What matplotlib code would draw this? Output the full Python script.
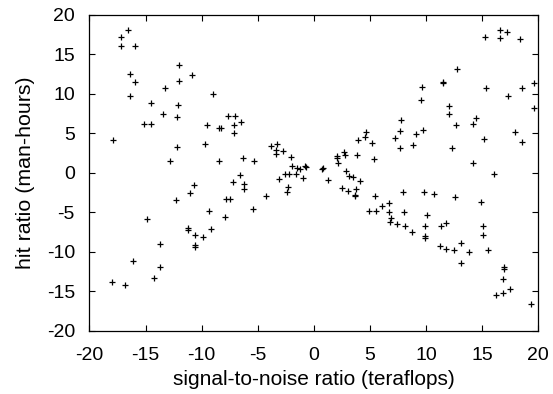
import matplotlib
matplotlib.use("Agg")
import matplotlib.pyplot as plt

# data points (x, y)
x_vals = [
    -16.53, -17.16, -17.16, -15.91, -12.04, -16.41, -10.85, -15.94, -12.01, -13.29,
    -16.38, -8.97, -14.48, -12.13, -13.47, -7.61, -7.04, -12.16, -6.45, -15.10,
    -14.48, -9.48, -7.10, -8.41, -8.23, -7.13, -17.87, -9.66, -12.19, -3.82,
    -3.29, -3.35, -3.35, -2.70, -2.01, -12.84, -8.44, -6.27, -5.29, -1.90,
    -1.48, -1.27, -0.80, -0.71,
    -6.62, -2.54, -2.19, -1.56, -0.97, -3.11, -7.22, -6.23, -6.23, -10.67,
    -11.00, -2.28, -2.37, -4.30, -12.28, -7.87, -7.46, -5.43, -9.33, -14.84,
    -7.90, -11.21, -11.21, -9.18, -10.58, -9.84, -13.73, -10.55, -10.55, -16.09,
    -13.70, -14.27, -18.00, -16.80,
    16.59, 17.19, 15.31, 16.59, 18.38, 12.75, 11.50, 11.55, 9.66, 15.40,
    18.55, 19.63, 17.31, 9.60, 12.10, 12.10, 19.63, 7.81, 14.51, 14.18,
    12.69, 4.63, 7.66, 4.54, 3.95, 7.21, 9.09, 9.77, 17.96, 18.58,
    15.16, 5.16, 7.66, 8.88, 12.30, 2.07, 2.07, 2.66, 2.78, 2.16,
    3.88, 5.36, 14.21, 0.73, 0.85, 2.86, 16.05,
    1.23, 3.12, 3.49, 4.15, 2.48, 3.09, 3.75, 3.65, 3.65, 5.48,
    7.96, 9.80, 10.73, 12.57, 14.87, 4.93, 5.52, 6.12, 6.74, 6.74,
    8.02, 6.86, 6.77, 7.43, 8.14, 8.73, 10.07, 9.89, 9.92, 9.95,
    11.32, 11.77, 11.23, 11.80, 12.54, 13.17, 13.82, 13.11, 15.07, 15.07,
    15.55, 16.95, 16.95, 16.89, 16.27, 16.86, 17.54, 19.39,
]
y_vals = [
    18.07, 17.22, 16.04, 16.04, 13.63, 12.48, 12.36, 11.51, 11.60, 10.71,
    9.77, 9.95, 8.81, 8.59, 7.41, 7.20, 7.20, 7.03, 6.43, 6.18,
    6.18, 6.01, 6.01, 5.67, 5.70, 5.04, 4.11, 3.68, 3.26, 3.35,
    3.60, 2.86, 2.37, 2.80, 2.03, 1.48, 1.44, 1.82, 1.44, 0.87,
    0.66, 0.44, 0.80, 0.68,
    -0.29, -0.14, -0.11, -0.20, -0.71, -0.80, -1.22, -1.43, -2.05, -1.52,
    -2.54, -1.86, -2.38, -3.00, -3.42, -3.38, -3.30, -4.57, -4.90, -5.92,
    -5.62, -6.98, -7.27, -7.14, -7.91, -8.16, -9.01, -9.18, -9.39, -11.12,
    -12.00, -13.28, -13.79, -14.25,
    18.07, 17.81, 17.18, 17.10, 16.97, 13.16, 11.47, 11.35, 10.88, 10.75,
    10.71, 11.35, 9.73, 9.23, 8.50, 7.49, 8.21, 6.69, 6.90, 6.22,
    6.05, 5.23, 5.29, 4.57, 4.15, 4.37, 4.91, 5.38, 5.12, 3.94,
    4.24, 3.73, 3.13, 3.52, 3.13, 2.16, 1.85, 2.62, 2.20, 1.19,
    2.29, 1.70, 1.19, 0.45, 0.60, 0.17, -0.12,
    -0.93, -0.40, -0.55, -1.00, -1.94, -2.34, -2.11, -2.87, -3.00, -2.93,
    -2.49, -2.41, -2.70, -3.05, -3.68, -4.86, -4.86, -4.19, -3.85, -4.95,
    -4.95, -5.79, -6.30, -6.51, -6.72, -7.57, -5.41, -6.80, -8.07, -8.24,
    -6.80, -6.38, -9.30, -9.72, -9.81, -8.84, -10.10, -11.42, -6.76, -7.87,
    -9.85, -11.97, -12.18, -13.45, -15.48, -15.23, -14.67, -16.66,
]

x_ticks = [-20, -15, -10, -5, 0, 5, 10, 15, 20]
y_ticks = [-20, -15, -10, -5, 0, 5, 10, 15, 20]
x_label = "signal-to-noise ratio (teraflops)"
y_label = "hit ratio (man-hours)"

plt.rcParams['font.family'] = ['Liberation Sans', 'DejaVu Sans']
plt.rcParams['axes.unicode_minus'] = False

fig = plt.figure(figsize=(5.53, 3.94), dpi=100)
ax = fig.add_axes([0.1618, 0.161, 0.973 - 0.1618, 0.962 - 0.161])
ax.plot(x_vals, y_vals, linestyle='none', marker='+', color='black',
        markersize=5, markeredgewidth=0.9)
ax.set_xlim(-20, 20)
ax.set_ylim(-20, 20)
ax.set_xticks(x_ticks)
ax.set_yticks(y_ticks)
ax.tick_params(direction='in', length=4, width=0.8, top=True, right=True,
               labelsize=14, color='black')
ax.tick_params(axis='y', pad=10.5)
ax.tick_params(axis='x', pad=11.5)
for s in ax.spines.values():
    s.set_linewidth(0.9)
ax.set_xlabel(x_label, fontsize=15, labelpad=5)
ax.set_ylabel(y_label, fontsize=15.4, labelpad=8.5)
fig.savefig("out.png", dpi=100)
